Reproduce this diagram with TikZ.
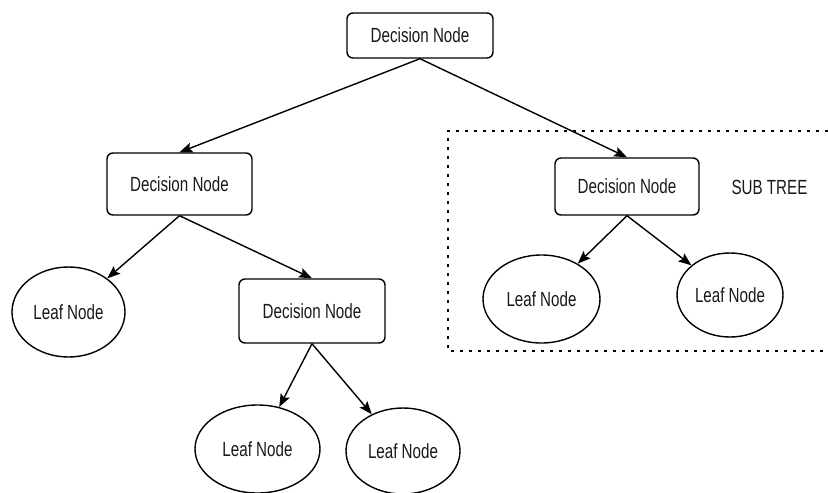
\documentclass[tikz,border=0pt]{standalone}
\usepackage{fontspec}
\setmainfont{Liberation Sans}[FakeStretch=0.74]
\usetikzlibrary{arrows.meta,shapes.geometric}

\begin{document}
\begin{tikzpicture}[x=1pt,y=-1pt,
  every node/.style={font=\fontsize{20.5}{24}\selectfont, text=black!90},
  decision/.style={draw, line width=1.4pt, rounded corners=6pt, inner sep=0pt,
                   minimum width=#1},
  decision/.default=145pt,
  leaf/.style={draw, ellipse, line width=1.4pt, inner sep=0pt},
  edge/.style={line width=1.4pt, -{Stealth[length=13pt,width=10pt,inset=2.5pt]}},
  dotline/.style={line width=2.6pt, dash pattern=on 2.6pt off 6.4pt}]

\useasboundingbox (0,0) rectangle (828,493);

% sub-tree frame (open on the right)
\draw[dotline] (828,131) -- (448,131) -- (448,351) -- (828,351);

% decision nodes
\node[decision=146pt, minimum height=45pt] (root) at (420,35.5) {Decision Node};
\node[decision=145pt, minimum height=62pt] (dl)   at (179.5,184) {Decision Node};
\node[decision=144pt, minimum height=57pt] (dr)   at (627,186.5) {Decision Node};
\node[decision=146pt, minimum height=64pt] (dm)   at (312,311) {Decision Node};

% leaf nodes
\node[leaf, minimum width=113pt, minimum height=90pt] (l1) at (68.5,312) {Leaf Node};
\node[leaf, minimum width=125pt, minimum height=88pt] (l2) at (257.5,449) {Leaf Node};
\node[leaf, minimum width=114pt, minimum height=86pt] (l3) at (403,451) {Leaf Node};
\node[leaf, minimum width=117pt, minimum height=88pt] (l4) at (541.5,299) {Leaf Node};
\node[leaf, minimum width=106pt, minimum height=84pt] (l5) at (730,295) {Leaf Node};

% label
\node (sub) at (769.5,187) {SUB TREE};

% connectors
\draw[edge] (root.south) -- (dl.north);
\draw[edge] (root.south) -- (dr.north);
\draw[edge] (dl.south) -- (l1);
\draw[edge] (dl.south) -- (dm.north);
\draw[edge] (dm.south) -- (l2);
\draw[edge] (dm.south) -- (l3);
\draw[edge] (dr.south) -- (l4);
\draw[edge] (dr.south) -- (l5);

\end{tikzpicture}
\end{document}
